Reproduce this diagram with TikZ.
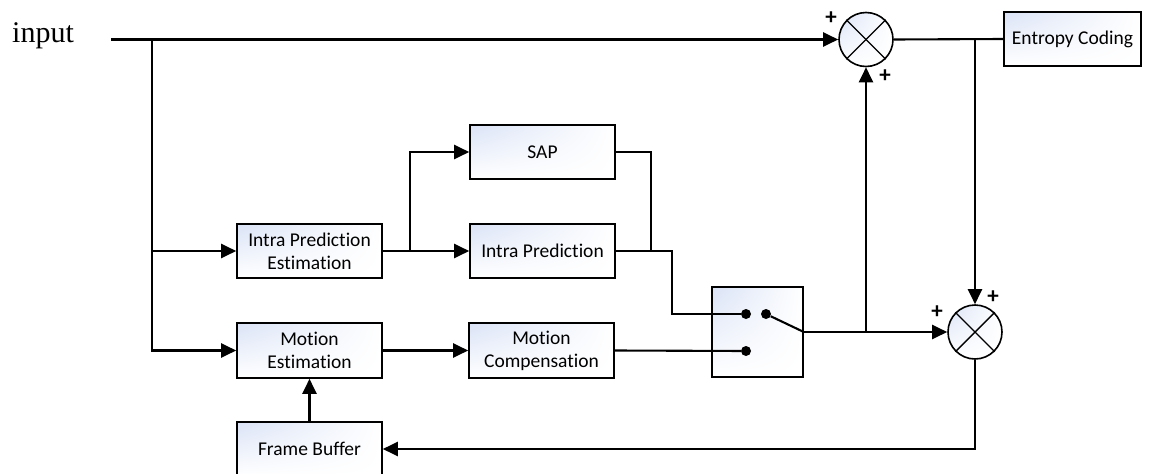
\documentclass[tikz,border=0pt]{standalone}
\usepackage{fontspec}
\setmainfont{Carlito}[Ligatures=NoCommon]
\newfontfamily\inputfont{Liberation Serif}
\usetikzlibrary{arrows.meta,calc,shadings}
\definecolor{boxblue}{RGB}{218,227,246}
\begin{document}
\begin{tikzpicture}[x=1pt,y=-1pt,
  wire/.style={line width=2.1pt},
  arr/.style={wire,-{Triangle[length=15pt,width=14pt]}},
  blk/.style={draw,line width=1.6pt,minimum width=145pt,minimum height=54pt,
    align=center,inner sep=2pt,font=\fontsize{19.5}{23}\selectfont,
    upper left=boxblue,upper right=white,lower left=white,lower right=white},
  summer/.style={draw,circle,line width=1.6pt,minimum size=54pt,inner sep=0pt,
    upper left=boxblue,upper right=white,lower left=white,lower right=white},
  junction/.style={circle,fill,inner sep=0pt,minimum size=10pt},
  sign/.style={font=\bfseries\fontsize{23}{23}\selectfont,inner sep=0pt}]
\useasboundingbox (0,0) rectangle (1152,474);

% labels and blocks
\node[anchor=base west,inner sep=0pt,font=\inputfont\fontsize{30}{32}\selectfont] (inlbl) at (12,42) {input};
\coordinate (instart) at (111,39.5);
\coordinate (trunk) at (152,39.5);

\node[summer] (sum1) at (866,39.5) {};
\node[blk,minimum width=137pt] (ent) at (1072.5,39) {Entropy Coding};

\node[blk] (sap) at (542.5,152) {SAP};
\node[blk] (ipe) at (309.5,251) {Intra Prediction\\Estimation};
\node[blk] (ip) at (542.5,251) {Intra Prediction};
\node[blk,minimum height=55pt] (me) at (309.5,350.5) {Motion\\Estimation};
\node[blk,minimum height=55pt] (mc) at (541.5,350.5) {Motion\\Compensation};
\node[blk] (fb) at (309.5,449) {Frame Buffer};

\node[blk,minimum width=91pt,minimum height=90pt] (sw) at (757.5,332) {};
\node[junction] (d1) at (746,314) {};
\node[junction] (d2) at (766,314) {};
\node[junction] (d3) at (746,351) {};

\node[summer] (sum2) at (975,332) {};

% crosses inside the summing junctions
\foreach \s in {sum1,sum2}{
  \draw[line width=1.4pt] (\s.north west) -- (\s.south east);
  \draw[line width=1.4pt] (\s.north east) -- (\s.south west);
}

% signs
\node[sign] (p1) at (831,18) {+};
\node[sign] (p2) at (885,76) {+};
\node[sign] (p3) at (937,312) {+};
\node[sign] (p4) at (993,297) {+};

% connectors
\draw[arr] (instart) -- (sum1.west);
\draw[arr] (trunk) |- (me.west);
\draw[arr] (trunk |- ipe.west) -- (ipe.west);
\draw[arr] (ipe.east) -- (ip.west);
\draw[arr] ($(ipe.east)+(27,0)$) |- (sap.west);
\draw[wire] (sap.east) -| ($(ip.east)+(35,0)$);
\draw[wire] (ip.east) -- ++(56,0) |- (d1);
\draw[arr] (me.east) -- (mc.west);
\draw[wire] (mc.east) -- (d3);
\draw[wire] (d2) -- (sw.east);
\draw[arr] (sw.east) -- (sum2.west);
\draw[arr] (sw.east -| sum1.south) -- (sum1.south);
\draw[wire] (sum1.east) -- (ent.west);
\draw[arr] (sum1.east -| sum2.north) -- (sum2.north);
\draw[arr] (sum2.south) |- (fb.east);
\draw[arr] (fb.north) -- (me.south);
\end{tikzpicture}
\end{document}
